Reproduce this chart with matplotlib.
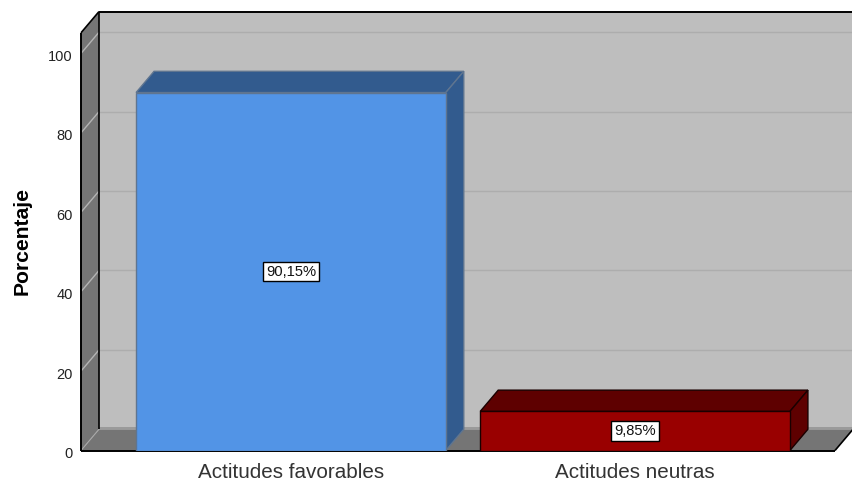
import matplotlib
matplotlib.use('Agg')
import matplotlib.pyplot as plt
from matplotlib.patches import Polygon, Rectangle
from matplotlib.transforms import ScaledTranslation

plt.rcParams['font.family'] = ['Liberation Sans', 'DejaVu Sans']

categorias = ['Actitudes favorables', 'Actitudes neutras']
porcentajes = [90.15, 9.85]
etiquetas = ['90,15%', '9,85%']
marcas_y = [0, 20, 40, 60, 80, 100]

colores_frente = ['#5294e6', '#990000']
colores_sombra = ['#325b8e', '#5e0000']
colores_borde = ['#5f7590', '#1a0000']

ancho_barra = 0.9
y_max = 105.2
x_min, x_max = -0.61, 1.581
# profundidad del efecto 3D en unidades de datos
dx = 0.0523
dy = 5.35

fig = plt.figure(figsize=(8.53, 4.82), dpi=100)
ax = fig.add_axes([81 / 853, 31.5 / 482, 754 / 853, 417.7 / 482])
ax.set_xlim(x_min, x_max)
ax.set_ylim(0, y_max)
for s in ax.spines.values():
    s.set_visible(False)


def poli(puntos, color, borde='none', lw=0.0, z=1):
    ax.add_patch(Polygon(puntos, closed=True, facecolor=color, edgecolor=borde,
                         linewidth=lw, zorder=z, clip_on=False))


def linea(xs, ys, color='black', lw=1.2, z=2):
    ax.plot(xs, ys, color=color, linewidth=lw, zorder=z, clip_on=False,
            solid_capstyle='butt')


# pared del fondo, hasta el borde de la figura
x_fin = x_max + dx
poli([(x_min + dx, dy), (x_fin, dy), (x_fin, y_max + dy), (x_min + dx, y_max + dy)], '#bebebe')
# suelo y pared lateral
poli([(x_min, 0), (x_max, 0), (x_fin, dy), (x_min + dx, dy)], '#757575')
poli([(x_min, 0), (x_min + dx, dy), (x_min + dx, y_max + dy), (x_min, y_max)], '#757575')
poli([(x_min + dx, dy), (x_fin, dy), (x_fin, dy + 0.5), (x_min + dx, dy + 0.5)], '#9a9a9a')

# rejilla sobre el fondo y la pared lateral
for v in marcas_y[1:]:
    linea([x_min + dx, x_fin], [v + dy, v + dy], color='#adadad', lw=1.0)
    linea([x_min, x_min + dx], [v, v + dy], color='#b4b4b4', lw=1.0)
linea([x_min, x_min + dx], [0, dy], color='#a8a8a8', lw=0.8)

# contorno de la caja
linea([x_min, x_min], [0, y_max], lw=1.4, z=3)
linea([x_min + dx, x_min + dx], [dy, y_max + dy], lw=1.2, z=3)
linea([x_min, x_min + dx], [y_max, y_max + dy], lw=1.2, z=3)
linea([x_min + dx, x_fin], [y_max + dy, y_max + dy], lw=1.4, z=3)
linea([x_min, x_max], [0, 0], lw=1.4, z=3)
linea([x_max, x_fin], [0, dy], lw=1.2, z=3)

# barras con su cara superior y lateral
for i, valor in enumerate(porcentajes):
    x0 = i - ancho_barra / 2
    x1 = i + ancho_barra / 2
    poli([(x0, valor), (x1, valor), (x1 + dx, valor + dy), (x0 + dx, valor + dy)],
         colores_sombra[i], colores_borde[i], 1.0, 4)
    poli([(x1, 0), (x1 + dx, dy), (x1 + dx, valor + dy), (x1, valor)],
         colores_sombra[i], colores_borde[i], 1.0, 4)
    ax.add_patch(Rectangle((x0, 0), ancho_barra, valor, facecolor=colores_frente[i],
                           edgecolor=colores_borde[i], linewidth=1.0, zorder=5))
    ax.text(i, valor / 2, etiquetas[i], ha='center', va='center', fontsize=10.6,
            color='#111111', zorder=6,
            bbox=dict(boxstyle='square,pad=0.2', facecolor='white',
                      edgecolor='black', linewidth=1.0))

ax.set_xticks(range(len(categorias)))
ax.set_xticklabels(categorias, fontsize=14.9, color='#333333')
ax.set_yticks(marcas_y)
ax.set_yticklabels([str(v) for v in marcas_y], fontsize=10.5, color='#222222')
ax.tick_params(axis='both', length=0)
ax.tick_params(axis='x', pad=9)
ax.tick_params(axis='y', pad=6)
# las etiquetas del eje y van un poco por debajo de su marca
for t in ax.get_yticklabels():
    t.set_transform(t.get_transform() + ScaledTranslation(0, -1.5 / 72, fig.dpi_scale_trans))
ax.set_ylabel('Porcentaje', fontsize=15.2, fontweight='bold')
ax.yaxis.set_label_coords((32 - 81) / 754, (450.5 - 241) / 417.7)

fig.savefig('out.png', dpi=100)
